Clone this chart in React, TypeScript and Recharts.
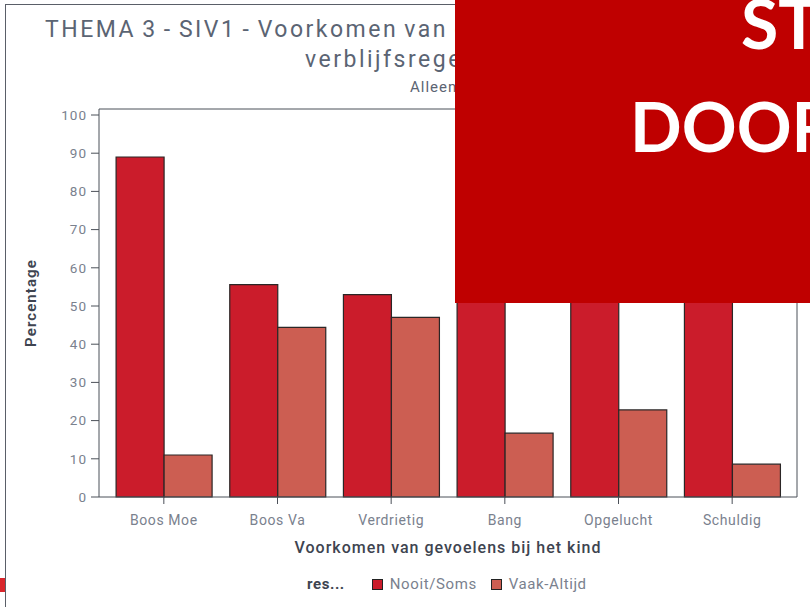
import React from "react"
import { BarChart, Bar, XAxis, YAxis, CartesianGrid, Label } from "recharts"

// waarden (procenten per gevoel)
const categories = ["Boos Moe", "Boos Va", "Verdrietig", "Bang", "Opgelucht", "Schuldig"]
const nooitSoms = [89.0, 55.6, 53.0, 83.3, 77.2, 91.4]
const vaakAltijd = [11.0, 44.4, 47.0, 16.7, 22.8, 8.6]
const yTicks = [0, 10, 20, 30, 40, 50, 60, 70, 80, 90, 100]

const seriesNames = ["Nooit/Soms", "Vaak-Altijd"]
const RED = "#CB1C2B"
const SALMON = "#CC5E52"
const AXIS = "#4b5058"
const TICK = "#7a818e"
const DARK = "#3e4450"
const FONT = "Roboto, 'DejaVu Sans', sans-serif"

const data = categories.map((name, i) => ({
    name,
    nooit: nooitSoms[i],
    vaak: vaakAltijd[i],
}))

function LegendBlock() {
    const colors = [RED, SALMON]
    return (
        <div style={{ position: "absolute", left: 307, top: 576, display: "flex", alignItems: "center", fontFamily: FONT, fontSize: 15, lineHeight: "17px", letterSpacing: 0.6 }}>
            <span style={{ fontWeight: 700, color: DARK, marginRight: 27 }}>res...</span>
            {seriesNames.map((s, i) => (
                <span key={s} style={{ display: "flex", alignItems: "center", marginRight: 14 }}>
                    <span style={{ width: 9, height: 9, background: colors[i], border: "1px solid #222", marginRight: 7 }} />
                    <span style={{ color: TICK }}>{s}</span>
                </span>
            ))}
        </div>
    )
}

function YLabel(props: any) {
    const vb = props.viewBox || { x: 49, y: 109, height: 388 }
    const cx = vb.x - 18
    const cy = vb.y + vb.height / 2
    return (
        <text
            x={cx}
            y={cy}
            transform={`rotate(-90, ${cx}, ${cy})`}
            textAnchor="middle"
            dominantBaseline="central"
            fill={DARK}
            fontSize={15}
            fontWeight={600}
            fontFamily={FONT}
            letterSpacing={1.1}
        >
            Percentage
        </text>
    )
}

export default function App() {
    return (
        <div style={{ position: "fixed", left: 0, top: 0, width: 810, height: 607, background: "#fff", overflow: "hidden", fontFamily: FONT }}>
            {/* kader */}
            <div style={{ position: "absolute", left: 5, top: 4, width: 900, height: 700, borderLeft: "1px solid #5a5f68", borderTop: "1px solid #5a5f68" }} />
            <div style={{ position: "absolute", left: 0, top: 578, width: 5, height: 14, background: "#d9262c" }} />

            <div style={{ position: "absolute", left: 45, top: 18, fontSize: 23, lineHeight: "23px", color: "#5b6473", letterSpacing: 2.5, wordSpacing: -2, whiteSpace: "nowrap" }}>
                THEMA 3 - SIV1 - Voorkomen van gevoelens
            </div>
            <div style={{ position: "absolute", left: 305, top: 48, fontSize: 23, lineHeight: "23px", color: "#5b6473", letterSpacing: 2.5, whiteSpace: "nowrap" }}>
                verblijfsregeling
            </div>
            <div style={{ position: "absolute", left: 410, top: 80, fontSize: 15, lineHeight: "15px", color: "#5b6473", letterSpacing: 1, whiteSpace: "nowrap" }}>
                Alleen kinderen
            </div>

            <BarChart
                width={810}
                height={607}
                data={data}
                margin={{ top: 109, right: 13, left: 49, bottom: 80 }}
                barCategoryGap="8%"
                barGap={0}
                style={{ position: "absolute", left: 0, top: 0 }}
            >
                <CartesianGrid
                    stroke={AXIS}
                    strokeWidth={1}
                    horizontalCoordinatesGenerator={(p: any) => [p?.offset?.top ?? 109]}
                    verticalCoordinatesGenerator={(p: any) => [(p?.offset?.left ?? 99) + (p?.offset?.width ?? 698)]}
                />
                <XAxis
                    dataKey="name"
                    padding={{ left: 8, right: 8 }}
                    stroke={AXIS}
                    tickSize={7}
                    tickMargin={11}
                    tick={{ fill: TICK, fontSize: 14, fontFamily: FONT, letterSpacing: 0.6 }}
                    height={30}
                >
                    <Label
                        value="Voorkomen van gevoelens bij het kind"
                        position="bottom"
                        offset={15}
                        style={{ fill: DARK, fontSize: 16, fontWeight: 500, fontFamily: FONT, letterSpacing: 1 }}
                    />
                </XAxis>
                <YAxis
                    domain={[0, 100]}
                    ticks={yTicks}
                    padding={{ top: 6 }}
                    width={50}
                    stroke={AXIS}
                    tickSize={8}
                    tickMargin={4}
                    tick={{ fill: TICK, fontSize: 13.5, fontFamily: FONT, letterSpacing: 1 }}
                >
                    <Label content={<YLabel />} />
                </YAxis>
                <Bar dataKey="nooit" name={seriesNames[0]} fill={RED} stroke="#2b2626" strokeWidth={1.2} isAnimationActive={false} />
                <Bar dataKey="vaak" name={seriesNames[1]} fill={SALMON} stroke="#2b2626" strokeWidth={1.2} isAnimationActive={false} />
            </BarChart>

            <LegendBlock />

            {/* rode overlay rechtsboven */}
            <div style={{ position: "absolute", left: 455, top: 0, width: 360, height: 303, background: "#BF0000", overflow: "hidden" }}>
                <div style={{ position: "absolute", left: 286, top: -11, fontFamily: "Lato, sans-serif", fontWeight: 700, fontSize: 68, lineHeight: "68px", color: "#fff", whiteSpace: "nowrap" }}>
                    ST
                </div>
                <div style={{ position: "absolute", left: 175, top: 92, fontFamily: "Lato, sans-serif", fontWeight: 700, fontSize: 68, lineHeight: "68px", color: "#fff", whiteSpace: "nowrap" }}>
                    DOOR
                </div>
            </div>
        </div>
    )
}
